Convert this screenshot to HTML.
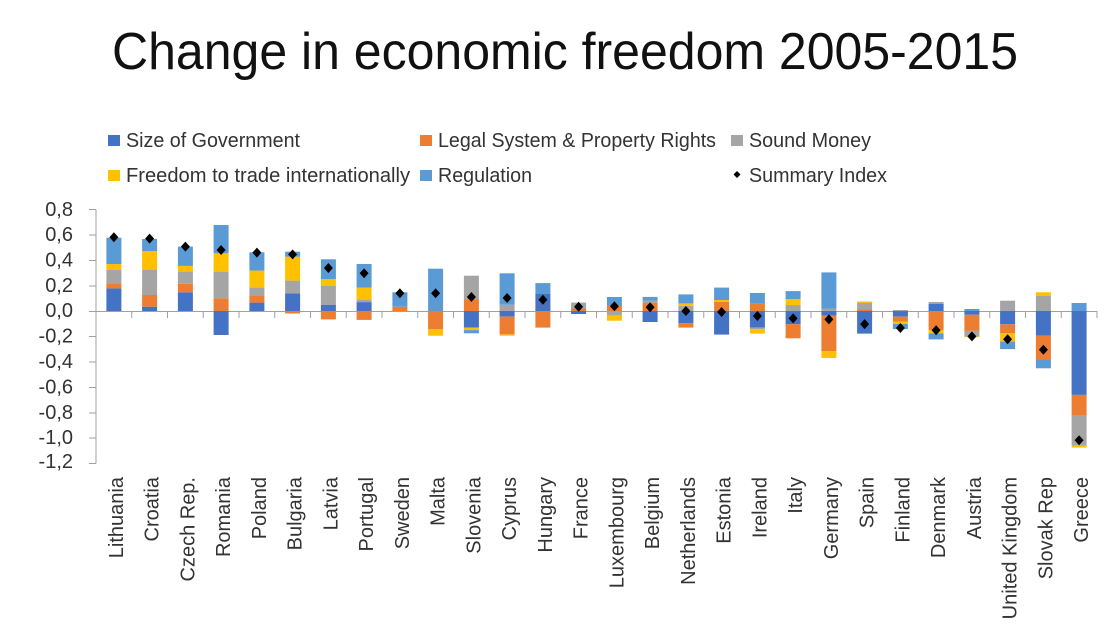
<!DOCTYPE html>
<html><head><meta charset="utf-8">
<style>
html,body{margin:0;padding:0;background:#fff;}
svg{display:block;}
text{font-family:"Liberation Sans",Arial,sans-serif;}
</style></head>
<body>
<svg width="1116" height="631" viewBox="0 0 1116 631" xmlns="http://www.w3.org/2000/svg">
<rect width="1116" height="631" fill="#fff"/>
<text x="112" y="69" font-size="52" fill="#111" textLength="906" lengthAdjust="spacingAndGlyphs">Change in economic freedom 2005-2015</text>

<!-- legend -->
<g font-size="20" fill="#333">
<rect x="108" y="135" width="12" height="11" fill="#4472C4"/>
<text x="126" y="147" textLength="174" lengthAdjust="spacingAndGlyphs">Size of Government</text>
<rect x="420" y="135" width="12" height="11" fill="#ED7D31"/>
<text x="438" y="147" textLength="278" lengthAdjust="spacingAndGlyphs">Legal System &amp; Property Rights</text>
<rect x="731" y="135" width="12" height="11" fill="#A5A5A5"/>
<text x="749" y="147" textLength="122" lengthAdjust="spacingAndGlyphs">Sound Money</text>
<rect x="108" y="170" width="12" height="11" fill="#FFC000"/>
<text x="126" y="182" textLength="284" lengthAdjust="spacingAndGlyphs">Freedom to trade internationally</text>
<rect x="420" y="170" width="12" height="11" fill="#5B9BD5"/>
<text x="438" y="182" textLength="94" lengthAdjust="spacingAndGlyphs">Regulation</text>
<path d="M737,171 L740.5,174.5 L737,178 L733.5,174.5 Z" fill="#000"/>
<text x="749" y="182" textLength="138" lengthAdjust="spacingAndGlyphs">Summary Index</text>
</g>

<!-- axes -->
<g stroke="#A0A0A0" stroke-width="1" fill="none">
<line x1="96" y1="209.5" x2="96" y2="463.5"/>
<line x1="89" y1="209.5" x2="96" y2="209.5"/>
<line x1="89" y1="235" x2="96" y2="235"/>
<line x1="89" y1="260.5" x2="96" y2="260.5"/>
<line x1="89" y1="286" x2="96" y2="286"/>
<line x1="89" y1="311.5" x2="96" y2="311.5"/>
<line x1="89" y1="336.5" x2="96" y2="336.5"/>
<line x1="89" y1="362" x2="96" y2="362"/>
<line x1="89" y1="387.5" x2="96" y2="387.5"/>
<line x1="89" y1="413" x2="96" y2="413"/>
<line x1="89" y1="438" x2="96" y2="438"/>
<line x1="89" y1="463.5" x2="96" y2="463.5"/>
<line x1="96" y1="311.5" x2="1097" y2="311.5"/>
<path d="M131.75,311 v7 M167.5,311 v7 M203.25,311 v7 M239,311 v7 M274.75,311 v7 M310.5,311 v7 M346.25,311 v7 M382,311 v7 M417.75,311 v7 M453.5,311 v7 M489.25,311 v7 M525,311 v7 M560.75,311 v7 M596.5,311 v7 M632.25,311 v7 M668,311 v7 M703.75,311 v7 M739.5,311 v7 M775.25,311 v7 M811,311 v7 M846.75,311 v7 M882.5,311 v7 M918.25,311 v7 M954,311 v7 M989.75,311 v7 M1025.5,311 v7 M1061.25,311 v7 M1097,311 v7"/>
</g>

<!-- y labels -->
<g font-size="20" fill="#333" text-anchor="end" dominant-baseline="central">
<text x="73" y="210">0,8</text>
<text x="73" y="235">0,6</text>
<text x="73" y="260.5">0,4</text>
<text x="73" y="286">0,2</text>
<text x="73" y="311">0,0</text>
<text x="73" y="336.5">-0,2</text>
<text x="73" y="362">-0,4</text>
<text x="73" y="387.5">-0,6</text>
<text x="73" y="413">-0,8</text>
<text x="73" y="438">-1,0</text>
<text x="73" y="462">-1,2</text>
</g>

<!-- Size of Government -->
<g fill="#4472C4">
<rect x="106.4" y="288.4" width="15" height="22.6"/>
<rect x="142.1" y="306.7" width="15" height="4.3"/>
<rect x="177.9" y="292.3" width="15" height="18.7"/>
<rect x="213.6" y="311" width="15" height="24"/>
<rect x="249.4" y="302.6" width="15" height="8.4"/>
<rect x="285.1" y="293.3" width="15" height="17.7"/>
<rect x="320.9" y="304.7" width="15" height="6.3"/>
<rect x="356.6" y="302.1" width="15" height="8.9"/>
<rect x="463.9" y="311" width="15" height="16.6"/>
<rect x="499.6" y="311" width="15" height="5.7"/>
<rect x="535.4" y="294" width="15" height="17"/>
<rect x="571.1" y="311" width="15" height="3"/>
<rect x="642.6" y="311" width="15" height="11"/>
<rect x="678.4" y="311" width="15" height="12.3"/>
<rect x="714.1" y="311" width="15" height="23.6"/>
<rect x="749.9" y="311" width="15" height="16.6"/>
<rect x="785.6" y="311" width="15" height="13.3"/>
<rect x="821.4" y="311" width="15" height="4.7"/>
<rect x="857.1" y="311" width="15" height="22.6"/>
<rect x="892.9" y="311" width="15" height="5.7"/>
<rect x="928.6" y="304" width="15" height="7"/>
<rect x="964.4" y="311" width="15" height="3.8"/>
<rect x="1000.1" y="311" width="15" height="13.3"/>
<rect x="1035.9" y="311" width="15" height="24.6"/>
<rect x="1071.6" y="311" width="15" height="83.9"/>
</g>

<!-- Legal System -->
<g fill="#ED7D31">
<rect x="106.4" y="283.3" width="15" height="5.1"/>
<rect x="142.1" y="295" width="15" height="11.7"/>
<rect x="177.9" y="283.9" width="15" height="8.4"/>
<rect x="213.6" y="298.3" width="15" height="12.7"/>
<rect x="249.4" y="296" width="15" height="6.6"/>
<rect x="285.1" y="311" width="15" height="2.5"/>
<rect x="320.9" y="311" width="15" height="8.4"/>
<rect x="356.6" y="311" width="15" height="8.9"/>
<rect x="392.4" y="306.7" width="15" height="4.3"/>
<rect x="428.1" y="311" width="15" height="18.3"/>
<rect x="463.9" y="299.1" width="15" height="11.9"/>
<rect x="499.6" y="316.7" width="15" height="17.7"/>
<rect x="535.4" y="311" width="15" height="16.6"/>
<rect x="571.1" y="308.5" width="15" height="2.5"/>
<rect x="606.9" y="305.9" width="15" height="5.1"/>
<rect x="642.6" y="302.6" width="15" height="8.4"/>
<rect x="678.4" y="323.3" width="15" height="4.3"/>
<rect x="714.1" y="302" width="15" height="9"/>
<rect x="749.9" y="303.4" width="15" height="7.6"/>
<rect x="785.6" y="324.3" width="15" height="14"/>
<rect x="821.4" y="315.7" width="15" height="35.3"/>
<rect x="857.1" y="309.1" width="15" height="1.9"/>
<rect x="892.9" y="316.7" width="15" height="5"/>
<rect x="928.6" y="311" width="15" height="19.1"/>
<rect x="964.4" y="314.8" width="15" height="16.1"/>
<rect x="1000.1" y="324.3" width="15" height="9"/>
<rect x="1035.9" y="335.6" width="15" height="24.4"/>
<rect x="1071.6" y="394.9" width="15" height="20.1"/>
</g>

<!-- Sound Money -->
<g fill="#A5A5A5">
<rect x="106.4" y="270" width="15" height="13.3"/>
<rect x="142.1" y="269.6" width="15" height="25.4"/>
<rect x="177.9" y="271.6" width="15" height="12.3"/>
<rect x="213.6" y="271.6" width="15" height="26.7"/>
<rect x="249.4" y="287.6" width="15" height="8.4"/>
<rect x="285.1" y="280.6" width="15" height="12.7"/>
<rect x="320.9" y="286" width="15" height="18.7"/>
<rect x="356.6" y="299.6" width="15" height="2.5"/>
<rect x="463.9" y="275.7" width="15" height="23.4"/>
<rect x="499.6" y="304.7" width="15" height="6.3"/>
<rect x="571.1" y="302.6" width="15" height="5.9"/>
<rect x="606.9" y="311" width="15" height="4.7"/>
<rect x="642.6" y="300.7" width="15" height="1.9"/>
<rect x="678.4" y="305.9" width="15" height="5.1"/>
<rect x="749.9" y="327.6" width="15" height="1.7"/>
<rect x="785.6" y="305" width="15" height="6"/>
<rect x="821.4" y="308.5" width="15" height="2.5"/>
<rect x="857.1" y="302.7" width="15" height="6.4"/>
<rect x="892.9" y="310" width="15" height="1"/>
<rect x="928.6" y="302" width="15" height="2"/>
<rect x="964.4" y="330.9" width="15" height="5.5"/>
<rect x="1000.1" y="300.7" width="15" height="10.3"/>
<rect x="1035.9" y="296" width="15" height="15"/>
<rect x="1071.6" y="415" width="15" height="30.6"/>
</g>

<!-- Freedom to trade -->
<g fill="#FFC000">
<rect x="106.4" y="264" width="15" height="6"/>
<rect x="142.1" y="250.9" width="15" height="18.7"/>
<rect x="177.9" y="265.9" width="15" height="5.7"/>
<rect x="213.6" y="253.3" width="15" height="18.3"/>
<rect x="249.4" y="270.6" width="15" height="17"/>
<rect x="285.1" y="256.6" width="15" height="24"/>
<rect x="320.9" y="279" width="15" height="7"/>
<rect x="356.6" y="287.5" width="15" height="12.1"/>
<rect x="428.1" y="329.3" width="15" height="6.4"/>
<rect x="463.9" y="327.6" width="15" height="2.5"/>
<rect x="499.6" y="334.4" width="15" height="1.3"/>
<rect x="606.9" y="315.7" width="15" height="5"/>
<rect x="678.4" y="303.4" width="15" height="2.5"/>
<rect x="714.1" y="300" width="15" height="2"/>
<rect x="749.9" y="329.3" width="15" height="4.3"/>
<rect x="785.6" y="299.1" width="15" height="6"/>
<rect x="821.4" y="351" width="15" height="7"/>
<rect x="857.1" y="301.5" width="15" height="1.3"/>
<rect x="892.9" y="321.7" width="15" height="2.3"/>
<rect x="928.6" y="330.1" width="15" height="3.3"/>
<rect x="964.4" y="336.4" width="15" height="0.8"/>
<rect x="1000.1" y="333.3" width="15" height="8.3"/>
<rect x="1035.9" y="292.3" width="15" height="3.7"/>
<rect x="1071.6" y="445.6" width="15" height="2"/>
</g>

<!-- Regulation -->
<g fill="#5B9BD5">
<rect x="106.4" y="237.7" width="15" height="26.3"/>
<rect x="142.1" y="238.9" width="15" height="12.1"/>
<rect x="177.9" y="246.6" width="15" height="19.3"/>
<rect x="213.6" y="225" width="15" height="28.3"/>
<rect x="249.4" y="252.3" width="15" height="18.3"/>
<rect x="285.1" y="251.7" width="15" height="5"/>
<rect x="320.9" y="259.3" width="15" height="19.7"/>
<rect x="356.6" y="264" width="15" height="23.5"/>
<rect x="392.4" y="292.3" width="15" height="14.4"/>
<rect x="428.1" y="268.7" width="15" height="42.3"/>
<rect x="463.9" y="330.1" width="15" height="3.2"/>
<rect x="499.6" y="273.3" width="15" height="31.4"/>
<rect x="535.4" y="283.1" width="15" height="10.9"/>
<rect x="606.9" y="297" width="15" height="8.9"/>
<rect x="642.6" y="296.9" width="15" height="3.8"/>
<rect x="678.4" y="294.4" width="15" height="9"/>
<rect x="714.1" y="287.6" width="15" height="12.4"/>
<rect x="749.9" y="293" width="15" height="10.4"/>
<rect x="785.6" y="291.1" width="15" height="8"/>
<rect x="821.4" y="272.4" width="15" height="36.1"/>
<rect x="892.9" y="324" width="15" height="5.1"/>
<rect x="928.6" y="333.4" width="15" height="6"/>
<rect x="964.4" y="309" width="15" height="2"/>
<rect x="1000.1" y="341.6" width="15" height="7.5"/>
<rect x="1035.9" y="360" width="15" height="8.3"/>
<rect x="1071.6" y="303" width="15" height="8"/>
</g>

<!-- Summary Index markers -->
<g fill="#000">
<path d="M113.9,232.3 l4.5,5 l-4.5,5 l-4.5,-5 Z"/>
<path d="M149.6,233.6 l4.5,5 l-4.5,5 l-4.5,-5 Z"/>
<path d="M185.4,241.6 l4.5,5 l-4.5,5 l-4.5,-5 Z"/>
<path d="M221.1,245 l4.5,5 l-4.5,5 l-4.5,-5 Z"/>
<path d="M256.9,247.6 l4.5,5 l-4.5,5 l-4.5,-5 Z"/>
<path d="M292.6,249.4 l4.5,5 l-4.5,5 l-4.5,-5 Z"/>
<path d="M328.4,263 l4.5,5 l-4.5,5 l-4.5,-5 Z"/>
<path d="M364.1,268.3 l4.5,5 l-4.5,5 l-4.5,-5 Z"/>
<path d="M399.9,288.3 l4.5,5 l-4.5,5 l-4.5,-5 Z"/>
<path d="M435.6,288.3 l4.5,5 l-4.5,5 l-4.5,-5 Z"/>
<path d="M471.4,292 l4.5,5 l-4.5,5 l-4.5,-5 Z"/>
<path d="M507.1,293 l4.5,5 l-4.5,5 l-4.5,-5 Z"/>
<path d="M542.9,294.7 l4.5,5 l-4.5,5 l-4.5,-5 Z"/>
<path d="M578.6,301.7 l4.5,5 l-4.5,5 l-4.5,-5 Z"/>
<path d="M614.4,301.3 l4.5,5 l-4.5,5 l-4.5,-5 Z"/>
<path d="M650.1,302.3 l4.5,5 l-4.5,5 l-4.5,-5 Z"/>
<path d="M685.9,306 l4.5,5 l-4.5,5 l-4.5,-5 Z"/>
<path d="M721.6,307 l4.5,5 l-4.5,5 l-4.5,-5 Z"/>
<path d="M757.4,311 l4.5,5 l-4.5,5 l-4.5,-5 Z"/>
<path d="M793.1,313.4 l4.5,5 l-4.5,5 l-4.5,-5 Z"/>
<path d="M828.9,314.4 l4.5,5 l-4.5,5 l-4.5,-5 Z"/>
<path d="M864.6,319.1 l4.5,5 l-4.5,5 l-4.5,-5 Z"/>
<path d="M900.4,323 l4.5,5 l-4.5,5 l-4.5,-5 Z"/>
<path d="M936.1,325.3 l4.5,5 l-4.5,5 l-4.5,-5 Z"/>
<path d="M971.9,331.4 l4.5,5 l-4.5,5 l-4.5,-5 Z"/>
<path d="M1007.6,334.3 l4.5,5 l-4.5,5 l-4.5,-5 Z"/>
<path d="M1043.4,344.8 l4.5,5 l-4.5,5 l-4.5,-5 Z"/>
<path d="M1079.1,435.3 l4.5,5 l-4.5,5 l-4.5,-5 Z"/>
</g>

<!-- category labels -->
<g font-size="20" fill="#333" text-anchor="end">
<text transform="translate(123,477) rotate(-90)">Lithuania</text>
<text transform="translate(158.6,477) rotate(-90)">Croatia</text>
<text transform="translate(194.4,477) rotate(-90)">Czech Rep.</text>
<text transform="translate(230.1,477) rotate(-90)">Romania</text>
<text transform="translate(265.9,477) rotate(-90)">Poland</text>
<text transform="translate(301.6,477) rotate(-90)">Bulgaria</text>
<text transform="translate(337.4,477) rotate(-90)">Latvia</text>
<text transform="translate(373.1,477) rotate(-90)">Portugal</text>
<text transform="translate(408.9,477) rotate(-90)">Sweden</text>
<text transform="translate(444.6,477) rotate(-90)">Malta</text>
<text transform="translate(480.4,477) rotate(-90)">Slovenia</text>
<text transform="translate(516.1,477) rotate(-90)">Cyprus</text>
<text transform="translate(551.9,477) rotate(-90)">Hungary</text>
<text transform="translate(587.6,477) rotate(-90)">France</text>
<text transform="translate(623.4,477) rotate(-90)">Luxembourg</text>
<text transform="translate(659.1,477) rotate(-90)">Belgium</text>
<text transform="translate(694.9,477) rotate(-90)">Netherlands</text>
<text transform="translate(730.6,477) rotate(-90)">Estonia</text>
<text transform="translate(766.4,477) rotate(-90)">Ireland</text>
<text transform="translate(802.1,477) rotate(-90)">Italy</text>
<text transform="translate(837.9,477) rotate(-90)">Germany</text>
<text transform="translate(873.6,477) rotate(-90)">Spain</text>
<text transform="translate(909.4,477) rotate(-90)">Finland</text>
<text transform="translate(945.1,477) rotate(-90)">Denmark</text>
<text transform="translate(980.9,477) rotate(-90)">Austria</text>
<text transform="translate(1016.6,477) rotate(-90)">United Kingdom</text>
<text transform="translate(1052.4,477) rotate(-90)">Slovak Rep</text>
<text transform="translate(1088.1,477) rotate(-90)">Greece</text>
</g>
</svg>
</body></html>
